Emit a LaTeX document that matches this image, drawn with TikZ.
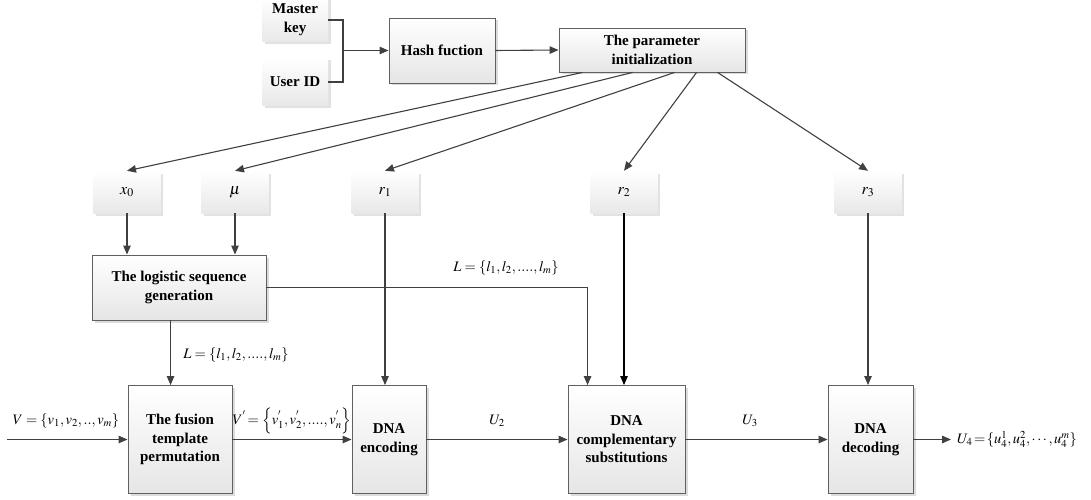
\documentclass[tikz,border=0pt]{standalone}
\usepackage{mathptmx}
\usepackage{fontspec}
\setmainfont{Liberation Serif}
\usetikzlibrary{arrows.meta,shadows,calc}
\definecolor{linec}{HTML}{404040}
\definecolor{borderc}{HTML}{606060}
\tikzset{
  proc/.style={draw=borderc, line width=0.9pt, top color=white, bottom color=black!10,
    drop shadow={shadow xshift=2.5pt, shadow yshift=-2.5pt, fill=black!30, opacity=0.45},
    align=center, font=\fontsize{15}{18.5}\selectfont\bfseries, inner sep=0pt},
  param/.style={top color=white, bottom color=black!9,
    drop shadow={shadow xshift=2.5pt, shadow yshift=-2.5pt, fill=black!25, opacity=0.45},
    minimum width=67pt, minimum height=42pt, inner sep=0pt, align=center,
    font=\fontsize{16}{18}\selectfont},
  keybox/.style={param, font=\fontsize{15}{19}\selectfont\bfseries, minimum width=66pt},
  arr/.style={draw=linec, line width=1.1pt, -{Triangle[length=9pt,width=7.5pt]}},
  ln/.style={draw=linec, line width=1.1pt},
  lab/.style={inner sep=0pt, font=\fontsize{14.5}{16}\selectfont}
}
\begin{document}
\begin{tikzpicture}[x=1pt,y=-1pt]
\useasboundingbox (0,0) rectangle (1091,500);
% top row
\node[keybox, minimum height=44pt] (mk) at (295,20) {Master\\key};
\node[keybox, minimum height=48pt] (uid) at (295,82) {User ID};
\node[proc, minimum width=106pt, minimum height=65pt] (hash) at (442,50.5) {Hash fuction};
\node[proc, minimum width=186pt, minimum height=44pt] (par) at (652,50) {The parameter\\initialization};
\coordinate (j) at (343,50.5);
% parameters
\node[param] (x0) at (127,192) {$x_0$};
\node[param] (mu) at (235,192) {$\mu$};
\node[param] (r1) at (385,192) {$r_1$};
\node[param] (r2) at (624,192) {$r_2$};
\node[param] (r3) at (868,192) {$r_3$};
% processing
\node[proc, minimum width=174pt, minimum height=65pt] (logi) at (179,287.5) {The logistic sequence\\generation};
\node[proc, minimum width=104pt, minimum height=108pt] (fus) at (180,439.5) {The fusion\\template\\permutation};
\node[proc, minimum width=74pt, minimum height=108pt] (enc) at (389,439.5) {DNA\\encoding};
\node[proc, minimum width=117pt, minimum height=108pt] (comp) at (626.5,439.5) {DNA\\complementary\\substitutions};
\node[proc, minimum width=85pt, minimum height=108pt] (dec) at (870.5,439.5) {DNA\\decoding};
\coordinate (in) at (7,439.5);
\coordinate (out) at (951,439.5);
% connectors top
\draw[ln] (mk.east) -| (j);
\draw[ln] (uid.east) -| (j);
\draw[arr] (j) -- (hash.west);
\draw[arr] (hash.east) -- (par.west);
\draw[arr] ([xshift=24pt]par.south west) -- (x0.north);
\draw[arr] ([xshift=74pt]par.south west) -- (mu.north);
\draw[arr] ([xshift=116pt]par.south west) -- (r1.north);
\draw[arr] ([xshift=138pt]par.south west) -- (r2.north);
\draw[arr] ([xshift=159pt]par.south west) -- (r3.north);
% middle
\draw[arr] (x0.south) -- (x0.south |- logi.north);
\draw[arr] (mu.south) -- (mu.south |- logi.north);
\draw[arr] ([xshift=79pt]logi.south west) -- ([xshift=79pt]logi.south west |- fus.north);
\draw[arr] (logi.east) -| ([xshift=20pt]comp.north west);
\draw[arr] (r1.south) -- (r1.south |- enc.north);
\draw[arr, draw=black] (r2.south) -- (r2.south |- comp.north);
\draw[arr] (r3.south) -- (r3.south |- dec.north);
% bottom row
\draw[arr] (in) -- (fus.west);
\draw[arr] (fus.east) -- (enc.west);
\draw[arr] (enc.east) -- (comp.west);
\draw[arr] (comp.east) -- (dec.west);
\draw[arr] (dec.east) -- (out);
% labels
\node[lab] (lL1) at (236,355) {$L=\left\{l_1,l_2,....,l_m\right\}$};
\node[lab] (lL2) at (506,268) {$L=\left\{l_1,l_2,....,l_m\right\}$};
\node[lab] (lV) at (66,421) {$V=\left\{v_1,v_2,..,v_m\right\}$};
\node[lab] (lV2) at (292,421) {$V^{'}\!=\left\{v_1^{'},v_2^{'},....,v_n^{'}\right\}$};
\node[lab] (lU2) at (497,421) {$U_2$};
\node[lab] (lU3) at (750,421) {$U_3$};
\node[lab, anchor=west] (lU4) at (957,439.5) {$U_4\!=\!\{u_4^1,u_4^2,\cdots,u_4^m\}$};
\end{tikzpicture}
\end{document}
